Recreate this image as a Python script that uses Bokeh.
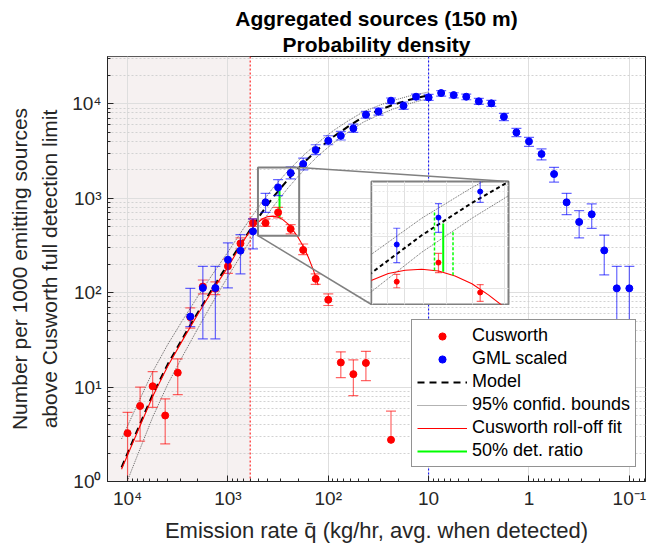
import math
from bokeh.plotting import figure
from bokeh.models import (Range1d, FixedTicker, Legend, LegendItem, Span,
                          BoxAnnotation, Title, Grid, Column)
from bokeh.embed import file_html
from bokeh.resources import INLINE

FONT = "Liberation Sans"

# ---------------- data ----------------
# Cusworth observations
red_q = [10000, 7499, 5623, 4217, 3162, 2371, 1778, 1334, 1000, 749.9, 562.3,
         421.7, 316.2, 237.1, 177.8, 133.4, 100.0, 74.99, 56.23, 42.17, 23.71]
red_val = [3.25, 6.3, 10.2, 5.0, 14.2, 55, 116, 110, 190, 332, 546,
           546, 707, 472, 283, 140, 84, 18.2, 13.7, 18.0, 2.76]
red_lo = [0.8, 2.67, 6.1, 2.5, 8.3, 42, 97, 95, 160, 290, 503,
          503, 617, 418, 252, 122, 73, 12.6, 8.1, 11.7, 0]
red_hi = [5.4, 10.0, 14.6, 7.5, 19.9, 69, 136, 130, 227, 379, 603,
          603, 800, 525, 327, 158, 97, 23.6, 19.4, 23.9, 5.55]

# GML scaled
blue_q = [2371, 1778, 1334, 1000, 749.9, 562.3, 421.7, 316.2, 237.1, 177.8,
          133.4, 100.0, 74.99, 56.23, 42.17, 31.62, 23.71, 17.78, 13.34, 10.0,
          7.499, 5.623, 4.217, 3.162, 2.371, 1.778, 1.334, 1.0, 0.7499, 0.5623,
          0.4217, 0.3162, 0.2371, 0.1778, 0.1334, 0.1]
blue_val = [55.7, 112, 112, 223, 278, 445, 903, 1300, 1848, 2300,
            3236, 4060, 4580, 5480, 7660, 8280, 10770, 9520, 11860, 11670,
            12970, 12350, 11860, 10600, 10090, 7280, 4970, 3990, 2937, 1800,
            903, 560, 675, 280, 111, 111]
blue_lo = [43.7, 32.4, 32.4, 112, 158, 290, 707, 1063, 1597, 1995,
           2884, 3680, 4130, 4970, 7050, 7590, 10000, 8730, 11020, 10840,
           12050, 11560, 11020, 9840, 9370, 6610, 4480, 3530, 2540, 1480,
           668, 379, 479, 154, 32.4, 32.4]
blue_hi = [111, 190, 190, 336, 411, 603, 1125, 1570, 2150, 2660,
           3680, 4580, 5090, 6080, 8280, 9000, 11500, 10430, 12640, 12560,
           13740, 13060, 12640, 11380, 10840, 7890, 5480, 4400, 3320, 2120,
           1125, 738, 869, 407, 190, 190]

# Model and 95% confidence bounds
model_q = [11480, 7943, 5623, 3981, 2818, 1995, 1413, 1000, 708, 501, 355,
           251, 178, 126, 89.1, 63.1, 44.7, 31.6, 22.4, 15.8, 10.0]
model_n = [1.41, 3.55, 8.32, 17.4, 33.1, 61.7, 112, 200, 355, 617, 1023,
           1585, 2344, 3311, 4467, 5754, 7244, 8511, 9772, 10965, 12303]
bound_hi = [2.82, 6.61, 14.5, 28.2, 51.3, 91.2, 158, 269, 468, 794, 1288,
            1950, 2818, 3890, 5188, 6607, 8222, 9550, 10839, 12023, 13335]
bound_lo = [0.708, 1.91, 4.79, 10.7, 21.4, 41.7, 79.4, 148, 269, 479, 813,
            1288, 1950, 2818, 3846, 5012, 6383, 7586, 8810, 10000, 11350]

# Cusworth roll-off fit
fit_q = [11480, 7943, 5623, 3981, 2818, 1995, 1413, 1000, 794, 708, 631, 562,
         501, 447, 398, 355, 316, 282, 251, 224, 200, 178, 158, 141, 126]
fit_n = [1.35, 3.39, 7.94, 16.6, 31.6, 58.9, 107, 186, 282, 347, 417, 490,
         556, 610, 638, 646, 631, 589, 531, 457, 385, 309, 237, 174, 120]

# 50% detection ratio (solid) and its bounds (dashed)
green_q = 306
green_top = 1200
green_bot = 625
green_dash_q = [325, 286]
green_dash_top = [1400, 1090]
green_dash_bot = [635, 595]

detect_limit = 600      # shaded region / red dotted line
blue_marker_q = 10      # blue dotted line

x_ticks = [10000, 1000, 100, 10, 1, 0.1]
x_tick_labels = ["10\u2074", "10\u00b3", "10\u00b2", "10", "1", "10\u207b\u00b9"]
y_ticks = [1, 10, 100, 1000, 10000]
y_tick_labels = ["10\u2070", "10\u00b9", "10\u00b2", "10\u00b3", "10\u2074"]

# zoom window shown in the inset
inset_x = [502, 195]
inset_y = [401, 2118]
inset_grid_x = [400, 250]
inset_grid_y = [500, 700, 880, 1050, 1210, 1380, 1590, 1860]

# ---------------- layout constants ----------------
W, H = 648, 548
FL, FR, FT, FB = 107, 645, 56, 481
X_START, X_END = 15849, 0.069
Y_START, Y_END = 1, 31623
IL, IR, IT, IB = 371, 508, 181, 304   # inset frame in pixels

RED = "#ff0000"
BLUE = "#0000ff"
GREY = "#808080"

p = figure(width=W, height=H, x_axis_type="log", y_axis_type="log",
           x_range=Range1d(X_START, X_END), y_range=Range1d(Y_START, Y_END),
           output_backend="svg", toolbar_location=None,
           min_border_left=FL, min_border_right=W - FR,
           min_border_top=FT, min_border_bottom=H - FB,
           background_fill_color="white", border_fill_color="white")
p.outline_line_color = "#262626"
p.outline_line_width = 1

minor_x = [m * 10 ** e for e in range(-2, 5) for m in range(2, 10)]
minor_y = [m * 10 ** e for e in range(0, 5) for m in range(2, 10)]

xa = p.xaxis[0]
xa.ticker = FixedTicker(ticks=x_ticks, minor_ticks=minor_x)
xa.major_label_overrides = {t: s for t, s in zip(x_ticks, x_tick_labels)}
ya = p.yaxis[0]
ya.ticker = FixedTicker(ticks=y_ticks, minor_ticks=minor_y)
ya.major_label_overrides = {t: s for t, s in zip(y_ticks, y_tick_labels)}

for ax in (xa, ya):
    ax.major_label_text_font = FONT
    ax.major_label_text_font_size = "19px"
    ax.major_label_text_color = "#262626"
    ax.axis_label_text_font = FONT
    ax.axis_label_text_font_style = "normal"
    ax.axis_label_text_color = "#262626"
    ax.axis_line_color = "#262626"
    ax.major_tick_line_color = "#262626"
    ax.minor_tick_line_color = "#262626"
    ax.major_tick_in = 6
    ax.major_tick_out = 0
    ax.minor_tick_in = 3
    ax.minor_tick_out = 0
    ax.major_label_standoff = 6

xa.axis_label = "Emission rate q\u0304 (kg/hr, avg. when detected)"
xa.axis_label_text_font_size = "22px"
xa.axis_label_standoff = 6
ya.axis_label = "Number per 1000 emitting sources\nabove Cusworth full detection limit"
ya.axis_label_text_font_size = "21px"
ya.axis_label_standoff = 8
ya.axis_label_text_line_height = 1.3

p.xgrid.grid_line_color = "#dedede"
p.xgrid.minor_grid_line_color = None
p.ygrid.grid_line_color = "#dedede"
p.ygrid.minor_grid_line_color = "#d2d2d2"
p.ygrid.minor_grid_line_dash = "2 2"

p.add_layout(Title(text="Probability density", align="center",
                   text_font=FONT, text_font_size="21px", standoff=2,
                   text_font_style="bold", text_color="black"), "above")
p.add_layout(Title(text="Aggregated sources (150 m)", align="center",
                   text_font=FONT, text_font_size="21px", standoff=0,
                   text_font_style="bold", text_color="black"), "above")

# shaded region below the detection limit
p.add_layout(BoxAnnotation(left=X_START, right=detect_limit,
                           fill_color="#f6f1f1", fill_alpha=1.0,
                           line_alpha=0, level="image"))
p.add_layout(Span(location=detect_limit, dimension="height", line_color=RED,
                  line_dash="2 2", line_width=1, level="underlay"))
p.add_layout(Span(location=blue_marker_q, dimension="height", line_color=BLUE,
                  line_dash="2 2", line_width=1, level="underlay"))


def draw_all(fig, dot, cap, lw_model, dash_model, main=True):
    rb1 = fig.line(model_q, bound_hi, line_color="#404040", line_width=0.8,
                   line_dash="1 1")
    fig.line(model_q, bound_lo, line_color="#404040", line_width=0.8,
             line_dash="1 1")
    rm = fig.line(model_q, model_n, line_color="black", line_width=lw_model,
                  line_dash=dash_model)
    rf = fig.line(fit_q, fit_n, line_color=RED, line_width=1.1)
    if not main:
        fig.segment(x0=green_dash_q, y0=green_dash_bot, x1=green_dash_q,
                    y1=green_dash_top, line_color="#00ff00", line_width=1.5,
                    line_dash="3 2")
    rg = fig.segment(x0=[green_q], y0=[green_bot], x1=[green_q], y1=[green_top],
                     line_color="#00ff00", line_width=2)
    out = {}
    for name, q, v, lo, hi, col in (("red", red_q, red_val, red_lo, red_hi, RED),
                                    ("blue", blue_q, blue_val, blue_lo, blue_hi, BLUE)):
        y0 = [l if l > 0 else vv for l, vv in zip(lo, v)]
        fig.segment(x0=q, y0=y0, x1=q, y1=hi, line_color=col, line_width=1.2,
                    line_alpha=0.6)
        lq = [qq for qq, l in zip(q, lo) if l > 0]
        ll = [l for l in lo if l > 0]
        fig.scatter(lq, ll, marker="dash", size=cap, line_color=col,
                    line_width=1.2, line_alpha=0.6)
        fig.scatter(q, hi, marker="dash", size=cap, line_color=col,
                    line_width=1.2, line_alpha=0.6)
        out[name] = fig.scatter(q, v, marker="circle", size=dot, fill_color=col,
                                line_color=col)
    return out["red"], out["blue"], rm, rb1, rf, rg


r_red, r_blue, r_model, r_bnd, r_fit, r_green = draw_all(p, 7, 10, 2, "7 5")

# zoom box and connectors
p.quad(left=[inset_x[0]], right=[inset_x[1]], bottom=[inset_y[0]], top=[inset_y[1]],
       fill_alpha=0, line_color=GREY, line_width=2)

lx0, lx1 = math.log10(X_START), math.log10(X_END)
ly0, ly1 = math.log10(Y_END), math.log10(Y_START)


def px2x(px):
    return 10 ** (lx0 + (px - FL) / (FR - FL) * (lx1 - lx0))


def py2y(py):
    return 10 ** (ly0 + (py - FT) / (FB - FT) * (ly1 - ly0))


p.segment(x0=[inset_x[1], inset_x[0]], y0=[inset_y[1], inset_y[0]],
          x1=[px2x(IR), px2x(IL)], y1=[py2y(IT), py2y(IB)],
          line_color=GREY, line_width=1.5)

legend = Legend(items=[
    LegendItem(label="Cusworth", renderers=[r_red]),
    LegendItem(label="GML scaled", renderers=[r_blue]),
    LegendItem(label="Model", renderers=[r_model]),
    LegendItem(label="95% confid. bounds", renderers=[r_bnd]),
    LegendItem(label="Cusworth roll-off fit", renderers=[r_fit]),
    LegendItem(label="50% det. ratio", renderers=[r_green]),
], location=(304, 14))
legend.label_text_font = FONT
legend.label_text_font_size = "18px"
legend.label_text_color = "black"
legend.glyph_width = 50
legend.glyph_height = 18
legend.label_height = 18
legend.label_standoff = 5
legend.spacing = 2
legend.padding = 5
legend.margin = 0
legend.border_line_color = "#262626"
legend.border_line_width = 1
legend.background_fill_color = "white"
legend.background_fill_alpha = 1.0
p.add_layout(legend)

# ---------------- inset ----------------
# (layouts align plot frames horizontally, so give the inset the same
#  left/right borders as the main plot and keep those borders transparent)
inset = figure(width=FL + (IR - IL) + (W - FR), height=IB - IT + 2,
               x_axis_type="log", y_axis_type="log",
               x_range=Range1d(inset_x[0], inset_x[1]),
               y_range=Range1d(inset_y[0], inset_y[1]),
               x_axis_location=None, y_axis_location=None,
               output_backend="svg", toolbar_location=None,
               min_border_left=FL, min_border_right=W - FR,
               min_border_top=1, min_border_bottom=1,
               background_fill_color="white", border_fill_alpha=0)
inset.outline_line_color = GREY
inset.outline_line_width = 2
inset.add_layout(Grid(dimension=0, ticker=FixedTicker(ticks=inset_grid_x),
                      grid_line_color="#e0e0e0"))
inset.add_layout(Grid(dimension=1, ticker=FixedTicker(ticks=inset_grid_y),
                      grid_line_color="#e6e6e6", grid_line_dash="2 2"))
draw_all(inset, 5, 7, 2, "4 3", main=False)
inset.styles = {"position": "absolute", "left": f"{IL - FL}px",
                "top": f"{IT - 1}px"}

root = Column(children=[p, inset])
open("out.html", "w").write(file_html(root, INLINE))
